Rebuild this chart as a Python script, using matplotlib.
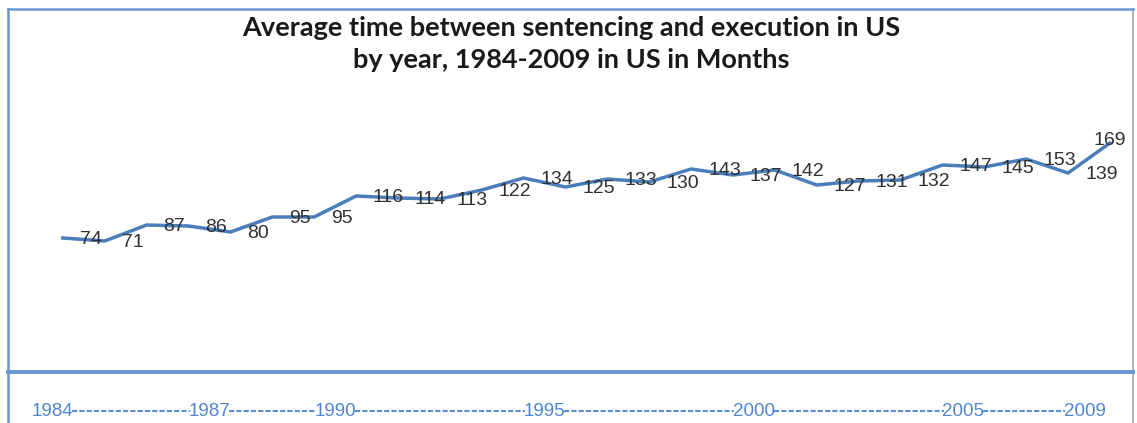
import matplotlib
matplotlib.use('Agg')
import matplotlib.pyplot as plt
import numpy as np

years = list(range(1984, 2010))
months = [74, 71, 87, 86, 80, 95, 95, 116, 114, 113, 122, 134, 125,
          133, 130, 143, 137, 142, 127, 131, 132, 147, 145, 153, 139, 169]
tick_years = [1984, 1987, 1990, 1995, 2000, 2005, 2009]
title_lines = ['Average time between sentencing and execution in US',
               'by year, 1984-2009 in US in Months']

W, H = 1137, 423
fig = plt.figure(figsize=(W / 100, H / 100), dpi=100)
blue = '#4a7ebb'
frame_blue = '#6a96cf'
frame_gray = '#a6a6a6'

# year strip below (drawn first so the main frame sits on top)
ax2 = fig.add_axes([8 / W, 0, 1125 / W, 51 / H])
ax2.patch.set_visible(False)

# main plot panel
ax = fig.add_axes([8 / W, 1 - 372 / H, 1125 / W, 363 / H])
ax.patch.set_visible(False)
ax.plot(years, months, color=blue, lw=2.5, solid_joinstyle='miter', zorder=3)
ax.set_xlim(1982.69, 2009.55)
ax.set_ylim(-60, 303)
ax.set_xticks([])
ax.set_yticks([])
for s in ['left', 'top']:
    ax.spines[s].set_color(frame_blue)
    ax.spines[s].set_linewidth(1.8)
ax.spines['right'].set_color(frame_gray)
ax.spines['right'].set_linewidth(1.2)
ax.spines['bottom'].set_color(frame_blue)
ax.spines['bottom'].set_linewidth(2.8)

for i, (yr, v) in enumerate(zip(years, months)):
    if i == len(years) - 1:
        ax.annotate(str(v), (yr, v), xytext=(0, 1.5), textcoords='offset points',
                    ha='center', va='center', fontsize=14, color='#303030',
                    family='Liberation Sans', zorder=4)
    else:
        ax.annotate(str(v), (yr, v), xytext=(12.2, -1.4), textcoords='offset points',
                    ha='left', va='center', fontsize=14, color='#303030',
                    family='Liberation Sans', zorder=4)

fig.text(571 / W, 1 - 28 / H, title_lines[0], ha='center', va='center',
         fontsize=19.5, fontweight='bold', family='Lato', color='#1a1a1a')
fig.text(571 / W, 1 - 60 / H, title_lines[1], ha='center', va='center',
         fontsize=19.5, fontweight='bold', family='Lato', color='#1a1a1a')

ax2.set_xlim(ax.get_xlim())
ax2.set_ylim(0, 1)
ax2.set_xticks([])
ax2.set_yticks([])
ax2.spines['top'].set_visible(False)
ax2.spines['bottom'].set_visible(False)
ax2.spines['left'].set_color(frame_blue)
ax2.spines['left'].set_linewidth(1.8)
ax2.spines['right'].set_color(frame_gray)
ax2.spines['right'].set_linewidth(1.2)

pos = []
for i, yr in enumerate(tick_years):
    if i == 0:
        x = yr - 0.25
    elif i == len(tick_years) - 1:
        x = yr - 0.6
    else:
        x = yr + 0.5
    pos.append(x)
    ax2.text(x, 0.235, str(yr), ha='center', va='center', fontsize=13.5,
             family=['Liberation Sans Narrow', 'Liberation Sans'], color='#4f86cf')
for a, b in zip(pos[:-1], pos[1:]):
    ax2.plot([a + 0.47, b - 0.47], [0.235, 0.235], color='#5b8fd4', lw=1.5,
             dashes=(2.5, 1))

fig.savefig('out.png', dpi=100)
